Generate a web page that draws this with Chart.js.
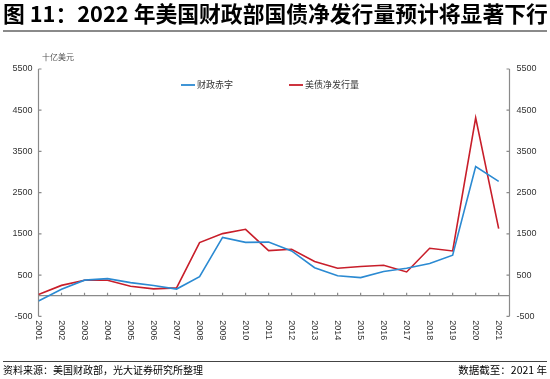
<!DOCTYPE html>
<html><head><meta charset="utf-8">
<script src="https://cdn.jsdelivr.net/npm/chart.js@4/dist/chart.umd.min.js"></script>
<style>
html,body{margin:0;padding:0;background:#fff;}
#wrap{position:relative;width:550px;height:379px;overflow:hidden;font-family:"Noto Sans CJK SC","Noto Sans",sans-serif;}
#title{position:absolute;left:3px;top:0px;font-size:21.8px;font-weight:bold;line-height:26px;color:#000;white-space:nowrap;}
#tline{position:absolute;left:3px;top:30px;width:544px;height:2px;background:#8a8a8a;}
#fline{position:absolute;left:3px;top:361px;width:544px;height:1px;background:#444;}
#src{position:absolute;left:3px;top:363px;font-size:10px;line-height:14px;color:#000;white-space:nowrap;}
#date{position:absolute;right:3px;top:363px;font-size:10.5px;line-height:14px;color:#000;white-space:nowrap;}
#unit{position:absolute;left:42px;top:51px;font-size:8px;line-height:12px;color:#555;white-space:nowrap;}
canvas{position:absolute;left:0;top:0;}
</style>
</head><body>
<div id="wrap">
<canvas id="c" width="550" height="379"></canvas>
<div id="title">图 11：2022 年美国财政部国债净发行量预计将显著下行</div>
<div id="tline"></div>
<div id="unit">十亿美元</div>
<div id="fline"></div>
<div id="src">资料来源：美国财政部，光大证券研究所整理</div>
<div id="date">数据截至：2021 年</div>
</div>
<script>
const years = [2001,2002,2003,2004,2005,2006,2007,2008,2009,2010,2011,2012,2013,2014,2015,2016,2017,2018,2019,2020,2021];
const deficit = [-128,158,377,413,318,248,161,459,1413,1294,1300,1087,680,485,438,585,665,779,984,3132,2775];
const netIssuance = [30,250,375,375,230,165,190,1288,1506,1610,1094,1126,828,666,707,738,576,1150,1085,4315,1627];
const yTicks = [-500,500,1500,2500,3500,4500,5500];
const seriesNames = ['财政赤字','美债净发行量'];
const seriesColors = ['#2b8ad2','#c81e2a'];

const AXIS_COLOR = '#8a8a8a';
const FONT = '"Liberation Sans", Arial, sans-serif';

const axesPlugin = {
  id: 'axesPlugin',
  beforeDatasetsDraw(chart) {
    const ctx = chart.ctx;
    const a = chart.chartArea;
    const xs = chart.scales.x, yl = chart.scales.y, yr = chart.scales.y2;
    ctx.save();
    ctx.strokeStyle = AXIS_COLOR;
    ctx.lineWidth = 1.2;
    ctx.beginPath();
    ctx.moveTo(a.left, a.top); ctx.lineTo(a.left, a.bottom);
    ctx.moveTo(a.right, a.top); ctx.lineTo(a.right, a.bottom);
    const y0 = yl.getPixelForValue(0);
    ctx.moveTo(a.left, y0); ctx.lineTo(a.right, y0);
    yTicks.forEach(v => {
      const py = yl.getPixelForValue(v);
      ctx.moveTo(a.left, py); ctx.lineTo(a.left + 3, py);
      const py2 = yr.getPixelForValue(v);
      ctx.moveTo(a.right - 3, py2); ctx.lineTo(a.right, py2);
    });
    years.forEach(yv => {
      const px = xs.getPixelForValue(yv);
      ctx.moveTo(px, y0); ctx.lineTo(px, y0 - 3);
    });
    ctx.stroke();
    ctx.restore();
  },
  afterDraw(chart) {
    const ctx = chart.ctx;
    const a = chart.chartArea;
    const xs = chart.scales.x;
    ctx.save();
    ctx.fillStyle = '#333';
    ctx.font = '9px ' + FONT;
    ctx.textAlign = 'left';
    ctx.textBaseline = 'middle';
    years.forEach(yv => {
      const px = xs.getPixelForValue(yv);
      ctx.save();
      ctx.translate(px, a.bottom + 4);
      ctx.rotate(Math.PI / 2);
      ctx.fillText(String(yv), 0, 0);
      ctx.restore();
    });
    // legend
    const legendX = [181, 289];
    const ly = 85;
    ctx.font = '9px "Noto Sans CJK SC", sans-serif';
    chart.data.datasets.forEach((ds, i) => {
      ctx.strokeStyle = ds.borderColor;
      ctx.lineWidth = 1.8;
      ctx.beginPath();
      ctx.moveTo(legendX[i], ly); ctx.lineTo(legendX[i] + 14, ly);
      ctx.stroke();
      ctx.fillStyle = '#333';
      ctx.fillText(ds.label, legendX[i] + 16, ly);
    });
    ctx.restore();
  }
};

new Chart(document.getElementById('c'), {
  type: 'line',
  data: {
    datasets: [
      { label: seriesNames[0], data: years.map((yv, i) => ({x: yv, y: deficit[i]})), borderColor: seriesColors[0], backgroundColor: seriesColors[0], borderWidth: 1.6, pointRadius: 0, tension: 0, yAxisID: 'y' },
      { label: seriesNames[1], data: years.map((yv, i) => ({x: yv, y: netIssuance[i]})), borderColor: seriesColors[1], backgroundColor: seriesColors[1], borderWidth: 1.6, pointRadius: 0, tension: 0, yAxisID: 'y' }
    ]
  },
  options: {
    responsive: false,
    animation: false,
    devicePixelRatio: 1,
    layout: { padding: { top: 69, left: 0, right: 0, bottom: 0 } },
    plugins: { legend: { display: false }, tooltip: { enabled: false }, title: { display: false } },
    scales: {
      x: {
        type: 'linear', min: 2001, max: 2021.47,
        grid: { display: false, drawTicks: false }, border: { display: false },
        ticks: { display: false },
        afterFit(s) { s.height = 62.7; }
      },
      y: {
        position: 'left', min: -500, max: 5500,
        grid: { display: false, drawTicks: false }, border: { display: false },
        afterBuildTicks(s) { s.ticks = yTicks.map(v => ({value: v})); },
        ticks: { color: '#333', font: { family: FONT, size: 9 }, padding: 6, callback: v => String(v) },
        afterFit(s) { s.width = 38.5; }
      },
      y2: {
        position: 'right', min: -500, max: 5500,
        grid: { display: false, drawTicks: false }, border: { display: false },
        afterBuildTicks(s) { s.ticks = yTicks.map(v => ({value: v})); },
        ticks: { color: '#333', font: { family: FONT, size: 9 }, padding: 7, callback: v => String(v) },
        afterFit(s) { s.width = 40.5; }
      }
    }
  },
  plugins: [axesPlugin]
});
</script>
</body></html>
